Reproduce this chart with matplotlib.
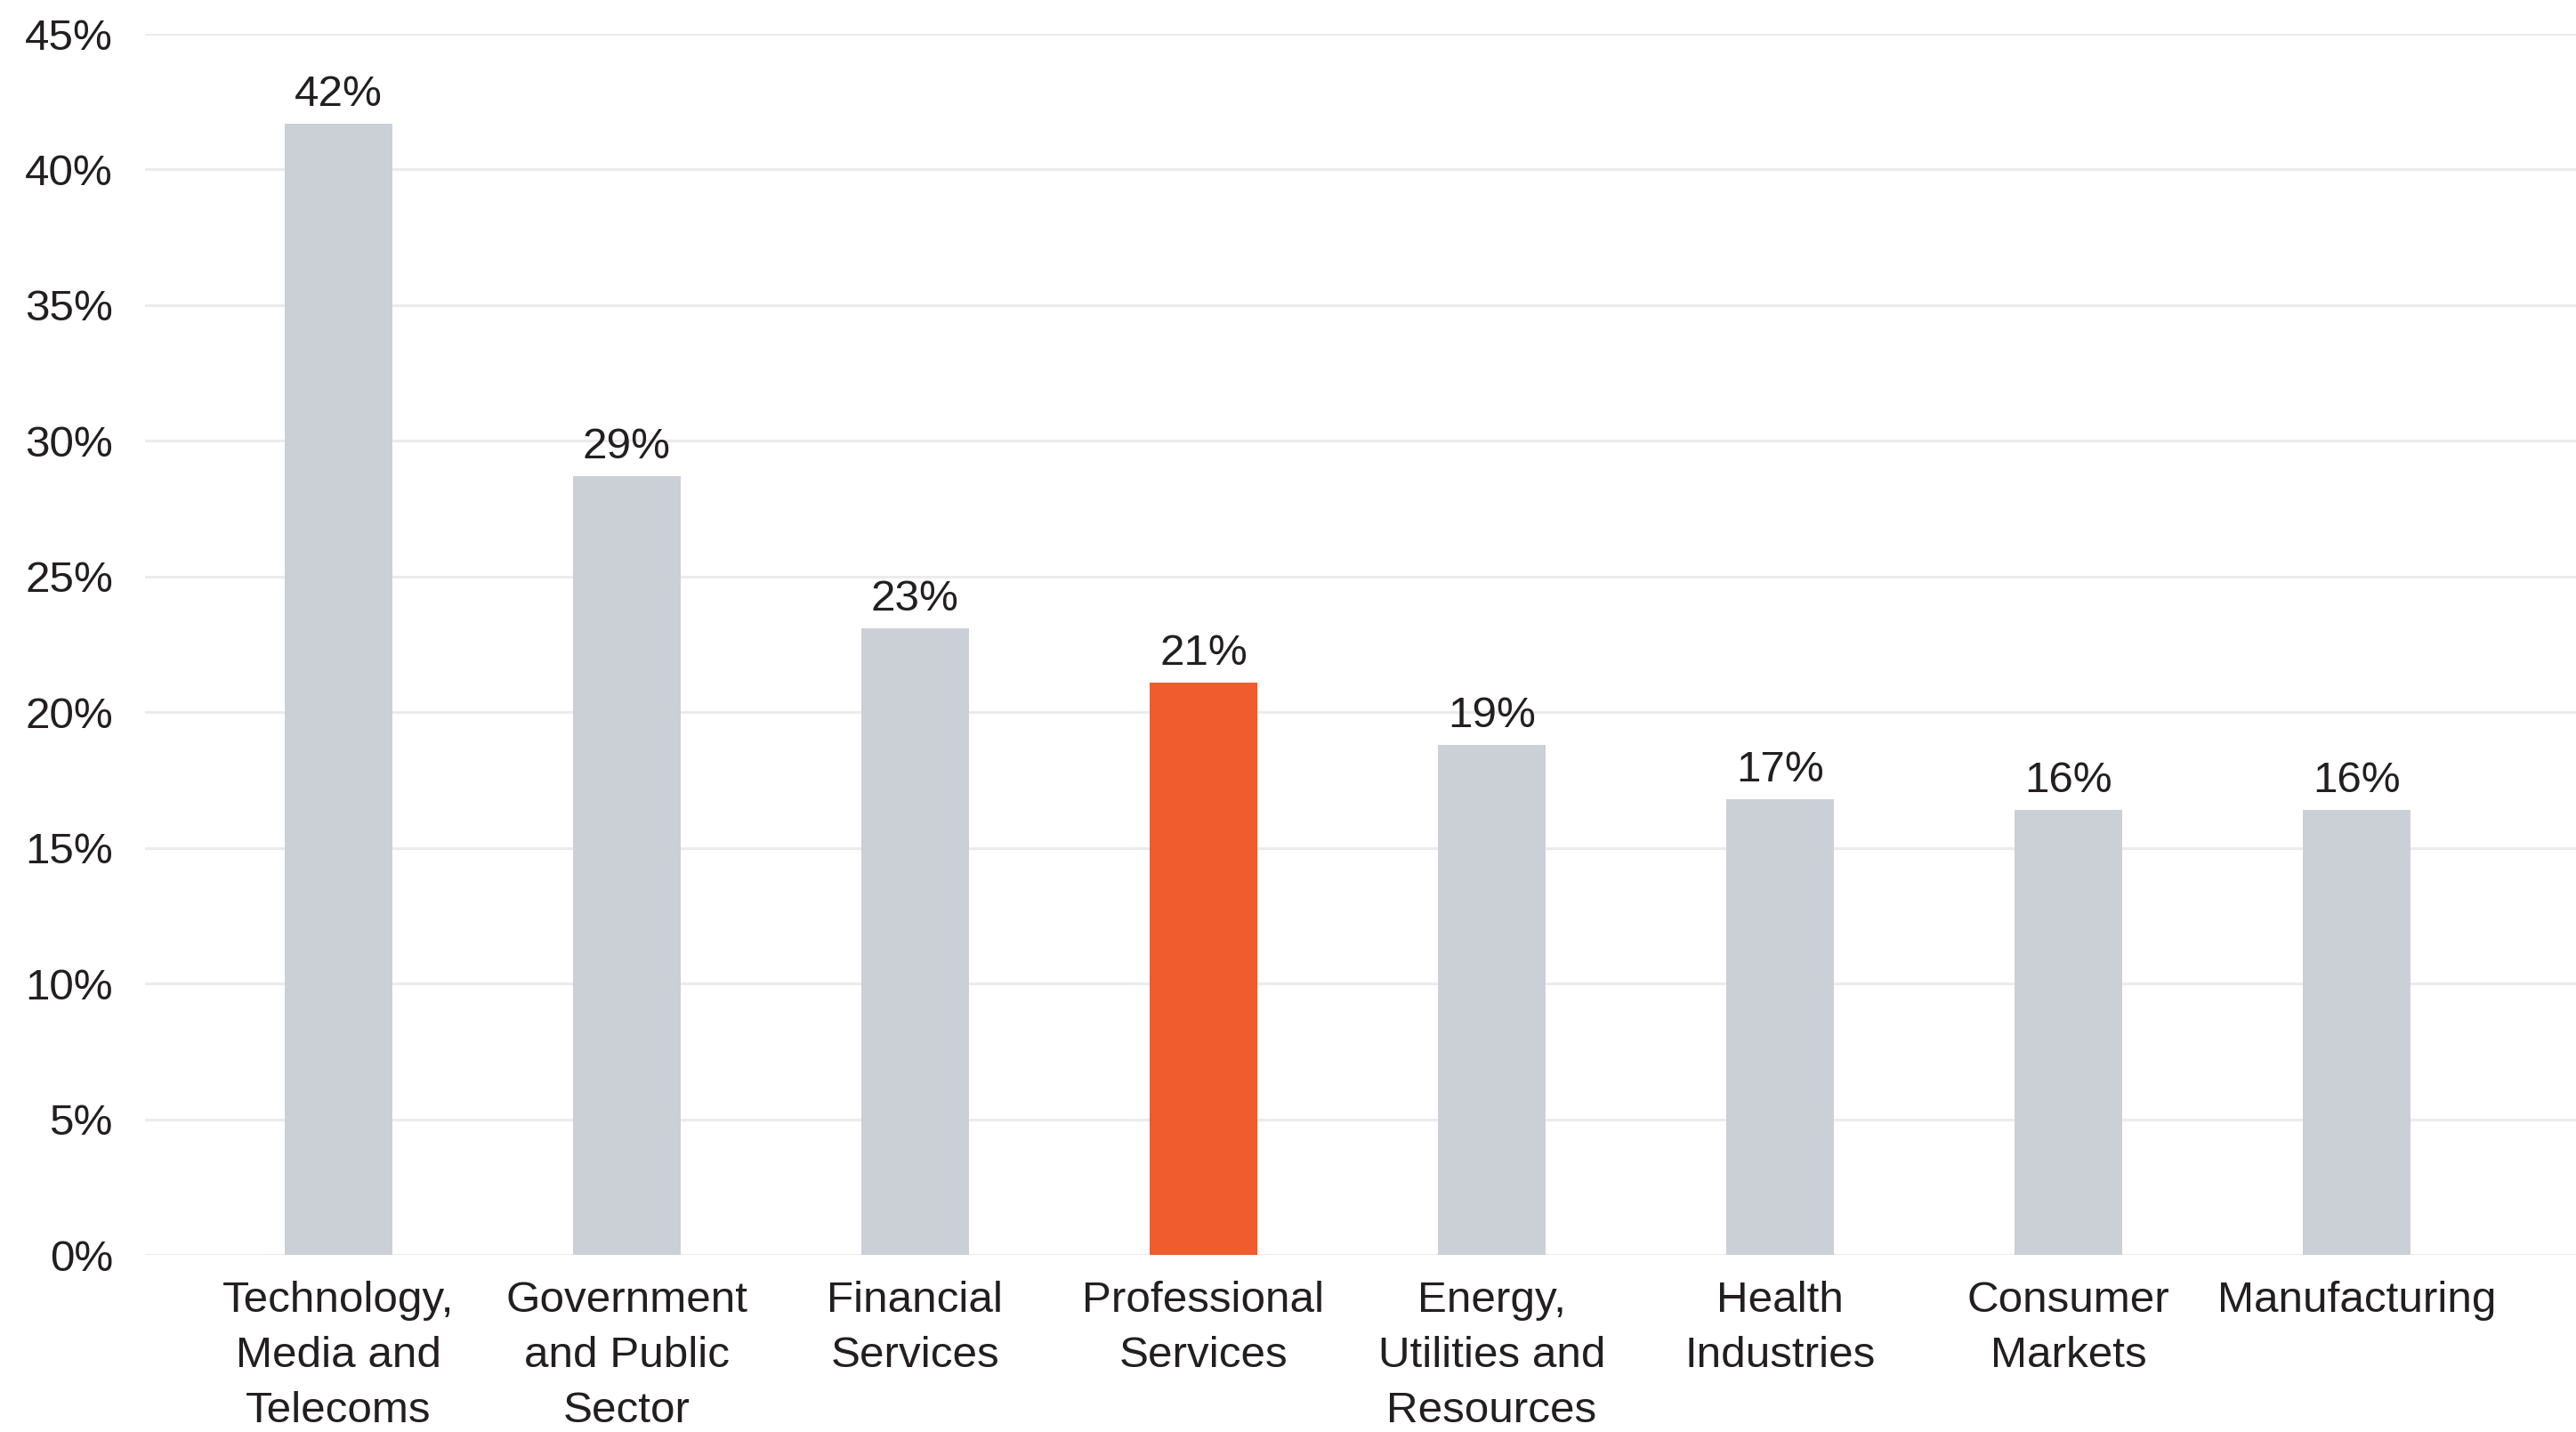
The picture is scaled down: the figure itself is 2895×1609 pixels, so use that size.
import matplotlib
matplotlib.use("Agg")
import matplotlib.pyplot as plt
from matplotlib.ticker import FuncFormatter

categories = [
    "Technology,\nMedia and\nTelecoms",
    "Government\nand Public\nSector",
    "Financial\nServices",
    "Professional\nServices",
    "Energy,\nUtilities and\nResources",
    "Health\nIndustries",
    "Consumer\nMarkets",
    "Manufacturing",
]
values = [41.7, 28.7, 23.1, 21.1, 18.8, 16.8, 16.4, 16.4]
value_labels = ["42%", "29%", "23%", "21%", "19%", "17%", "16%", "16%"]
highlight = "Professional\nServices"
yticks = [0, 5, 10, 15, 20, 25, 30, 35, 40, 45]

GREY = "#CBD0D7"
ORANGE = "#F05C2E"
TEXT = "#231F20"
GRID = "#EBEBEB"

plt.rcParams["font.family"] = ["Liberation Sans", "DejaVu Sans"]

fig = plt.figure(figsize=(14.475, 8.045), dpi=200)
ax = fig.add_axes([163 / 2895, (1609 - 1410) / 1609, 1 - 163 / 2895, (1410 - 38) / 1609])

x = list(range(len(categories)))
colors = [ORANGE if c == highlight else GREY for c in categories]
bars = ax.bar(x, values, width=0.374, color=colors, zorder=3)

for xi, v, lab in zip(x, values, value_labels):
    ax.annotate(lab, (xi, v), xytext=(0, 3.5), textcoords="offset points",
                ha="center", va="bottom", fontsize=17.8, color=TEXT)

ax.set_ylim(0, 45)
ax.set_xlim(-0.67, 7.76)
ax.set_yticks(yticks)
ax.yaxis.set_major_formatter(FuncFormatter(lambda v, p: f"{int(v)}%"))
ax.set_xticks(x)
ax.set_xticklabels(categories, fontsize=17.8, color=TEXT, linespacing=1.49)
ax.tick_params(axis="y", labelsize=17.8, labelcolor=TEXT, length=0, pad=13)
ax.tick_params(axis="x", length=0, pad=10.5)
ax.grid(axis="y", color=GRID, linewidth=1.1, zorder=0)
ax.set_axisbelow(True)
for s in ax.spines.values():
    s.set_visible(False)

fig.savefig("out.png", dpi=200, facecolor="white")
